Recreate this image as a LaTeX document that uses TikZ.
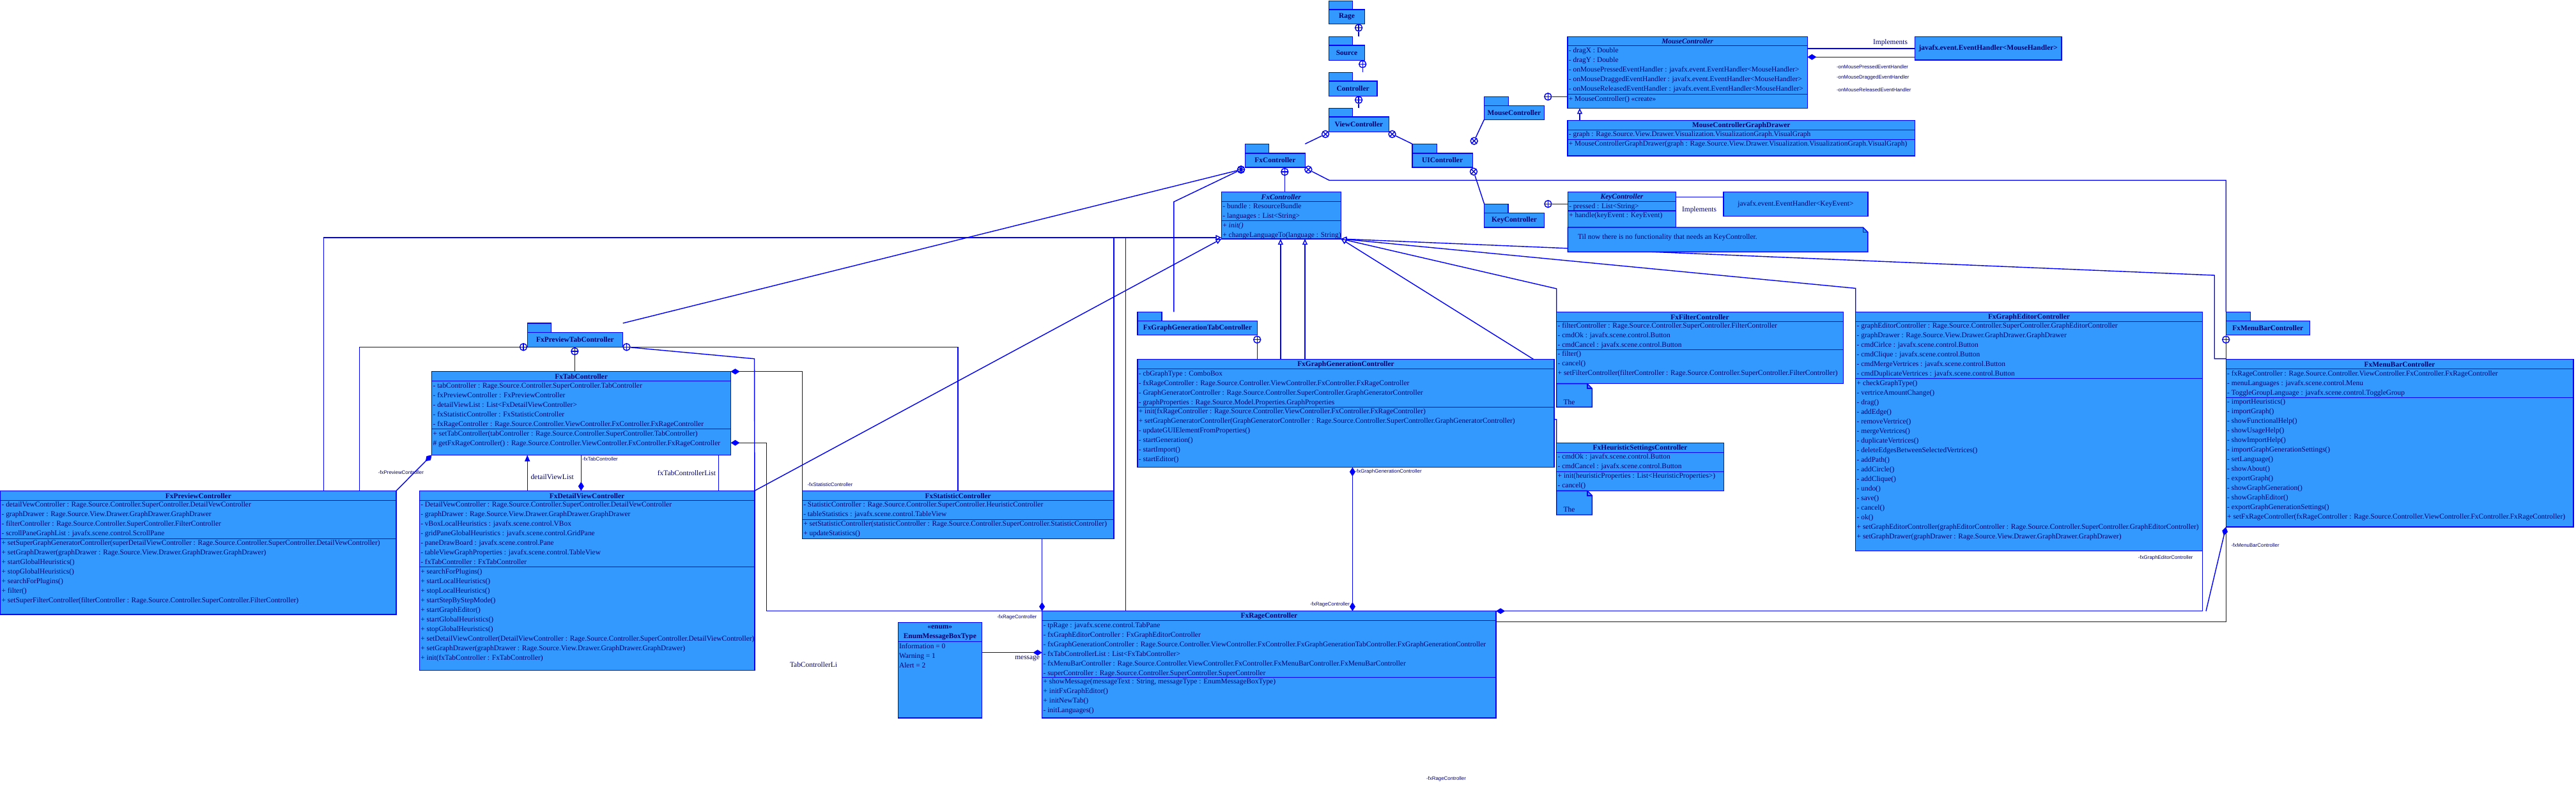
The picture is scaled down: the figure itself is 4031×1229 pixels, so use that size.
\documentclass[tikz,border=0pt]{standalone}
\usepackage{fontspec}
\setmainfont{Liberation Serif}
\setsansfont{Liberation Sans}
\usetikzlibrary{arrows.meta,fit}
\pgfdeclarelayer{bg}
\pgfsetlayers{bg,main}
\definecolor{boxblue}{RGB}{51,153,255}
\definecolor{lnblue}{RGB}{0,0,255}
\definecolor{txtblue}{RGB}{0,0,110}
\newcommand\fsz{\fontsize{3.25pt}{4.268pt}\selectfont}
\newcommand\fsmall{\sffamily\fontsize{2.25pt}{2.7pt}\selectfont}
\tikzset{
  ln/.style={draw=lnblue, line width=0.4pt},
  cbox/.style={draw=lnblue, fill=boxblue, line width=0.4pt, inner sep=0pt, outer sep=0pt},
  txt/.style={inner sep=0pt, outer sep=0pt, text=txtblue, font=\fsz, align=left},
  ttl/.style={inner sep=0pt, outer sep=0pt, text=txtblue, font=\fsz\bfseries},
  lbl/.style={inner sep=0pt, outer sep=0pt, text=txtblue, font=\fsz},
  slbl/.style={inner sep=0pt, outer sep=0pt, text=txtblue, font=\fsmall},
  cplus/.style={circle, draw=lnblue, line width=0.4pt, minimum size=1.1mm, inner sep=0pt,
    path picture={\draw[lnblue, line width=0.4pt] (path picture bounding box.north)--(path picture bounding box.south) (path picture bounding box.east)--(path picture bounding box.west);}},
  cross/.style={circle, draw=lnblue, line width=0.4pt, minimum size=1.1mm, inner sep=0pt,
    path picture={\draw[lnblue, line width=0.4pt] (path picture bounding box.north east)--(path picture bounding box.south west) (path picture bounding box.north west)--(path picture bounding box.south east);}},
  gen/.style={ln, -{Triangle[open, fill=white, length=0.9mm, width=0.8mm]}},
  comp/.style={ln, -{Diamond[fill=lnblue, length=1.4mm, width=0.9mm]}},
  compa/.style={ln, {Diamond[fill=lnblue, length=1.4mm, width=0.9mm]}-},
  compb/.style={ln, {Diamond[fill=lnblue, length=1.4mm, width=0.9mm]}-{Diamond[fill=lnblue, length=1.4mm, width=0.9mm]}},
  nav/.style={ln, -{Triangle[fill=lnblue, length=1mm, width=0.8mm]}},
}
\newcommand\klass[8]{%
  \node[cbox, fit={(#2,#3)(#4,#5)}] (#1) {};
  \draw[ln] (#2,#6) -- (#4,#6);
  \draw[ln] (#2,#7) -- (#4,#7);
  \node[ttl] (#1-t) at ({(#2+#4)/2},{(#3+#6)/2+0.6}) {#8};}
\newcommand\rowsat[4]{\node[txt, anchor=north west] (#1) at ({#2+2},{#3+2.6}) {#4};}
\newcommand\umlpkg[8]{%
  \node[cbox, fit={(#2,#3)(#4,#5)}] (#1-tab) {};
  \node[cbox, fit={(#2,#5)(#6,#7)}] (#1) {};
  \node[ttl] (#1-l) at (#1.center) {#8};}
\newcommand\umlnote[5]{%
  \node[inner sep=0pt, outer sep=0pt, fit={(#2,#3)(#4,#5)}] (#1) {};
  \draw[cbox] (#1.north west) -- ([xshift=-0.75mm]#1.north east) -- ([yshift=-0.75mm]#1.north east) -- (#1.south east) -- (#1.south west) -- cycle;
  \draw[ln] ([xshift=-0.75mm]#1.north east) |- ([yshift=-0.75mm]#1.north east);}
\begin{document}
\begin{tikzpicture}[x=0.1mm, y=-0.1mm]
\begin{pgfonlayer}{bg}
\fill[white] (0,0) rectangle (4031,1229);
\end{pgfonlayer}
\useasboundingbox (0,0) rectangle (4031,1229);

% ---------- packages ----------
\umlpkg{pRage}{2079.4}{1.3}{2116.5}{15}{2135.6}{37.3}{Rage}
\umlpkg{pSource}{2079.4}{57.3}{2116.5}{71}{2135.6}{94.3}{Source}
\umlpkg{pCtl}{2079.4}{113.3}{2116.5}{127}{2154.8}{150.3}{Controller}
\umlpkg{pVC}{2079.4}{169.3}{2116.5}{183}{2173.5}{206.3}{ViewController}
\umlpkg{pFx}{1948.5}{225.3}{1985.6}{240}{2042.3}{262}{FxController}
\umlpkg{pUI}{2209.9}{225.3}{2248.2}{240}{2304.4}{262}{UIController}
\umlpkg{pMouse}{2322.4}{151.3}{2360.7}{165.3}{2416.5}{187.3}{MouseController}
\umlpkg{pKey}{2322.6}{319.3}{2360.1}{333.3}{2416.4}{356}{KeyController}
\umlpkg{pPT}{825.2}{506}{862.7}{520.3}{974.7}{543.3}{FxPreviewTabController}
\umlpkg{pGT}{1779.9}{488.3}{1818}{502.3}{1967.7}{524.3}{FxGraphGenerationTabController}
\umlpkg{pMB}{3483.2}{488.3}{3521.5}{502.3}{3614.2}{524.3}{FxMenuBarController}

% ---------- classes ----------
\klass{mc}{2452.9}{57.3}{2828.4}{169.3}{71.7}{147.7}{\textit{MouseController}}
\rowsat{mc-a}{2452.9}{71.7}{- dragX : Double\\- dragY : Double\\- onMousePressedEventHandler : javafx.event.EventHandler<MouseHandler>\\- onMouseDraggedEventHandler : javafx.event.EventHandler<MouseHandler>\\- onMouseReleasedEventHandler : javafx.event.EventHandler<MouseHandler>}
\rowsat{mc-m}{2452.9}{147.7}{+ MouseController() «create»}

\klass{mcg}{2452.9}{188.3}{2996.5}{244}{203.3}{218.3}{MouseControllerGraphDrawer}
\rowsat{mcg-a}{2452.9}{203.3}{- graph : Rage.Source.View.Drawer.Visualization.VisualizationGraph.VisualGraph}
\rowsat{mcg-m}{2452.9}{218.3}{+ MouseControllerGraphDrawer(graph : Rage.Source.View.Drawer.Visualization.VisualizationGraph.VisualGraph)}

\node[cbox, fit={(2996.5,57.3)(3226,94)}] (mh) {};
\node[ttl] (mh-t) at (mh.center) {javafx.event.EventHandler<MouseHandler>};

\klass{fxc}{1911.4}{300.3}{2098.3}{374}{315.7}{345.7}{\textit{FxController}}
\rowsat{fxc-a}{1911.4}{315.7}{- bundle : ResourceBundle\\- languages : List<String>}
\rowsat{fxc-m}{1911.4}{345.7}{+ \textit{init()}\\+ changeLanguageTo(language : String)}

\klass{kc}{2453.3}{300.3}{2622.7}{356}{315.7}{330}{\textit{KeyController}}
\rowsat{kc-a}{2453.3}{315.7}{- pressed : List<String>}
\rowsat{kc-m}{2453.3}{330}{+ handle(keyEvent : KeyEvent)}

\node[cbox, fit={(2697,300.3)(2922.8,338.3)}] (ke) {};
\node[lbl] (ke-t) at (ke.center) {javafx.event.EventHandler<KeyEvent>};

\umlnote{kn}{2453.3}{356}{2922.8}{394.3}
\node[lbl, anchor=west] (kn-t) at (2469,372) {Til now there is no functionality that needs an KeyController.};

\klass{ftc}{675.6}{581.7}{1143.5}{712.3}{596.7}{671.7}{FxTabController}
\rowsat{ftc-a}{675.6}{596.7}{- tabController : Rage.Source.Controller.SuperController.TabController\\- fxPreviewController : FxPreviewController\\- detailViewList : List<FxDetailViewController>\\- fxStatisticController : FxStatisticController\\- fxRageController : Rage.Source.Controller.ViewController.FxController.FxRageController}
\rowsat{ftc-m}{675.6}{671.7}{+ setTabController(tabController : Rage.Source.Controller.SuperController.TabController)\\\# getFxRageController() : Rage.Source.Controller.ViewController.FxController.FxRageController}

\klass{fpc}{0.6}{768.3}{620.1}{962}{783.3}{843.3}{FxPreviewController}
\rowsat{fpc-a}{0.6}{783.3}{- detailVewController : Rage.Source.Controller.SuperController.DetailVewController\\- graphDrawer : Rage.Source.View.Drawer.GraphDrawer.GraphDrawer\\- filterController : Rage.Source.Controller.SuperController.FilterController\\- scrollPaneGraphList : javafx.scene.control.ScrollPane}
\rowsat{fpc-m}{0.6}{843.3}{+ setSuperGraphGeneratorController(superDetailViewController : Rage.Source.Controller.SuperController.DetailVewController)\\+ setGraphDrawer(graphDrawer : Rage.Source.View.Drawer.GraphDrawer.GraphDrawer)\\+ startGlobalHeuristics()\\+ stopGlobalHeuristics()\\+ searchForPlugins()\\+ filter()\\+ setSuperFilterController(filterController : Rage.Source.Controller.SuperController.FilterController)}

\klass{fdv}{656.3}{768.3}{1180.9}{1049.3}{783.3}{887.7}{FxDetailViewController}
\rowsat{fdv-a}{656.3}{783.3}{- DetailVewController : Rage.Source.Controller.SuperController.DetailVewController\\- graphDrawer : Rage.Source.View.Drawer.GraphDrawer.GraphDrawer\\- vBoxLocalHeuristics : javafx.scene.control.VBox\\- gridPaneGlobalHeuristics : javafx.scene.control.GridPane\\- paneDrawBoard : javafx.scene.control.Pane\\- tableViewGraphProperties : javafx.scene.control.TableView\\- fxTabController : FxTabController}
\rowsat{fdv-m}{656.3}{887.7}{+ searchForPlugins()\\+ startLocalHeuristics()\\+ stopLocalHeuristics()\\+ startStepByStepMode()\\+ startGraphEditor()\\+ startGlobalHeuristics()\\+ stopGlobalHeuristics()\\+ setDetailViewController(DetailViewController : Rage.Source.Controller.SuperController.DetailViewController)\\+ setGraphDrawer(graphDrawer : Rage.Source.View.Drawer.GraphDrawer.GraphDrawer)\\+ init(fxTabController : FxTabController)}

\klass{fsc}{1255.3}{768.3}{1743}{843.3}{783.3}{813.3}{FxStatisticController}
\rowsat{fsc-a}{1255.3}{783.3}{- StatisticController : Rage.Source.Controller.SuperController.HeuristicController\\- tableStatistics : javafx.scene.control.TableView}
\rowsat{fsc-m}{1255.3}{813.3}{+ setStatisticController(statisticController : Rage.Source.Controller.SuperController.StatisticController)\\+ updateStatistics()}

\klass{fgg}{1779.9}{562.7}{2432}{731.7}{577.7}{637.3}{FxGraphGenerationController}
\rowsat{fgg-a}{1779.9}{577.7}{- cbGraphType : ComboBox\\- fxRageController : Rage.Source.Controller.ViewController.FxController.FxRageController\\- GraphGeneratorController : Rage.Source.Controller.SuperController.GraphGeneratorController\\- graphProperties : Rage.Source.Model.Properties.GraphProperties}
\rowsat{fgg-m}{1779.9}{637.3}{+ init(fxRageController : Rage.Source.Controller.ViewController.FxController.FxRageController)\\+ setGraphGeneratorController(GraphGeneratorController : Rage.Source.Controller.SuperController.GraphGeneratorController)\\- updateGUIElementFromProperties()\\- startGeneration()\\- startImport()\\- startEditor()}

\klass{ffc}{2435.7}{488.3}{2884.3}{600.7}{503.3}{547.3}{FxFilterController}
\rowsat{ffc-a}{2435.7}{503.3}{- filterController : Rage.Source.Controller.SuperController.FilterController\\- cmdOk : javafx.scene.control.Button\\- cmdCancel : javafx.scene.control.Button}
\rowsat{ffc-m}{2435.7}{547.3}{- filter()\\- cancel()\\+ setFilterController(filterController : Rage.Source.Controller.SuperController.FilterController)}
\umlnote{ffn}{2435.7}{600.7}{2491.3}{637.3}
\node[lbl, anchor=west] (ffn-t) at (2446.7,630) {The};

\klass{fhs}{2435.7}{693.3}{2697.3}{768.3}{708.3}{738.3}{FxHeuristicSettingsController}
\rowsat{fhs-a}{2435.7}{708.3}{- cmdOk : javafx.scene.control.Button\\- cmdCancel : javafx.scene.control.Button}
\rowsat{fhs-m}{2435.7}{738.3}{+ init(heuristicProperties : List<HeuristicProperties>)\\- cancel()}
\umlnote{fhn}{2435.7}{768.3}{2491.3}{806}
\node[lbl, anchor=west] (fhn-t) at (2446.7,797.7) {The};

\klass{fge}{2903.7}{488.3}{3446.2}{862.3}{503.3}{592.7}{FxGraphEditorController}
\rowsat{fge-a}{2903.7}{503.3}{- graphEditorController : Rage.Source.Controller.SuperController.GraphEditorController\\- graphDrawer : Rage.Source.View.Drawer.GraphDrawer.GraphDrawer\\- cmdCirlce : javafx.scene.control.Button\\- cmdClique : javafx.scene.control.Button\\- cmdMergeVertrices : javafx.scene.control.Button\\- cmdDuplicateVertrices : javafx.scene.control.Button}
\rowsat{fge-m}{2903.7}{592.7}{+ checkGraphType()\\- vertriceAmountChange()\\- drag()\\- addEdge()\\- removeVertrice()\\- mergeVertrices()\\- duplicateVertrices()\\- deleteEdgesBetweenSelectedVertrices()\\- addPath()\\- addCircle()\\- addClique()\\- undo()\\- save()\\- cancel()\\- ok()\\+ setGraphEditorController(graphEditorController : Rage.Source.Controller.SuperController.GraphEditorController)\\+ setGraphDrawer(graphDrawer : Rage.Source.View.Drawer.GraphDrawer.GraphDrawer)}

\klass{fmb}{3483.2}{562.7}{4027}{825}{577.7}{622.3}{FxMenuBarController}
\rowsat{fmb-a}{3483.2}{577.7}{- fxRageController : Rage.Source.Controller.ViewController.FxController.FxRageController\\- menuLanguages : javafx.scene.control.Menu\\- ToggleGroupLanguage : javafx.scene.control.ToggleGroup}
\rowsat{fmb-m}{3483.2}{622.3}{- importHeuristics()\\- importGraph()\\- showFunctionalHelp()\\- showUsageHelp()\\- showImportHelp()\\- importGraphGenerationSettings()\\- setLanguage()\\- showAbout()\\- exportGraph()\\- showGraphGeneration()\\- showGraphEditor()\\- exportGraphGenerationSettings()\\+ setFxRageController(fxRageController : Rage.Source.Controller.ViewController.FxController.FxRageController)}

\klass{frc}{1630.6}{956.7}{2341.1}{1124}{971.7}{1060.3}{FxRageController}
\rowsat{frc-a}{1630.6}{971.7}{- tpRage : javafx.scene.control.TabPane\\- fxGraphEditorController : FxGraphEditorController\\- fxGraphGenerationController : Rage.Source.Controller.ViewController.FxController.FxGraphGenerationTabController.FxGraphGenerationController\\- fxTabControllerList : List<FxTabController>\\- fxMenuBarController : Rage.Source.Controller.ViewController.FxController.FxMenuBarController.FxMenuBarController\\- superController : Rage.Source.Controller.SuperController.SuperController}
\rowsat{frc-m}{1630.6}{1060.3}{+ showMessage(messageText : String, messageType : EnumMessageBoxType)\\+ initFxGraphEditor()\\+ initNewTab()\\- initLanguages()}

\node[cbox, fit={(1405.5,974.3)(1536.2,1124)}] (emb) {};
\draw[ln] (1405.5,1004.7) -- (1536.2,1004.7);
\node[ttl] (emb-s) at (1470.8,982.3) {«enum»};
\node[ttl] (emb-t) at (1470.8,997.2) {EnumMessageBoxType};
\node[txt, anchor=north west] (emb-a) at (1407,1007.3) {Information = 0\\Warning = 1\\Alert = 2};

% ---------- containment circles ----------
\node[cplus] (cRage) at (2126.1,43.5) {};
\node[cplus] (cSrc) at (2132.2,100.5) {};
\node[cplus] (cCtl) at (2126.1,156.5) {};
\node[cross] (cVC1) at (2074,210) {};
\node[cross] (cVC2) at (2178.5,210) {};
\node[cross] (cUI1) at (2306.7,220.7) {};
\node[cross] (cUI2) at (2306,268.7) {};
\node[cplus] (cMC) at (2422.3,151.3) {};
\node[cplus] (cKC) at (2422.4,319.3) {};
\node[cplus] (cFXa) at (1942,265.5) {};
\node[cross] (cFXb) at (1942,265.5) {};
\node[cplus] (cFX2) at (2010.3,269) {};
\node[cross] (cFX3) at (2047.3,265.5) {};
\node[cplus] (cPT1) at (819,543.3) {};
\node[cplus] (cPT2) at (899.3,550) {};
\node[cplus] (cPT3) at (980.5,543.3) {};
\node[cplus] (cGT) at (1967.2,531.7) {};
\node[cplus] (cMB) at (3483.2,531.7) {};

% ---------- labels ----------
\node[lbl, anchor=south] (impl1) at (2958,72) {Implements};
\node[lbl] (impl2) at (2659,328.3) {Implements};
\node[slbl, anchor=west] (l-mp) at (2874,104.3) {-onMousePressedEventHandler};
\node[slbl, anchor=west] (l-md) at (2874,121.7) {-onMouseDraggedEventHandler};
\node[slbl, anchor=west] (l-mr) at (2874,140.7) {-onMouseReleasedEventHandler};
\node[slbl, anchor=west] (l-fsc) at (1263.5,758.3) {-fxStatisticController};
\node[slbl, anchor=east] (l-fpc) at (663,739.3) {-fxPreviewController};
\node[lbl, anchor=west] (l-dvl) at (830.5,747) {detailViewList};
\node[slbl, anchor=west] (l-ftc) at (911,718.5) {-fxTabController};
\node[lbl, anchor=east] (l-tcl) at (1120,741) {fxTabControllerList};
\node[slbl, anchor=east] (l-frc1) at (1622.3,966) {-fxRageController};
\node[slbl, anchor=west] (l-fgg) at (2120.5,738.5) {-fxGraphGenerationController};
\node[slbl, anchor=east] (l-frc2) at (2112,946) {-fxRageController};
\node[lbl, anchor=east] (l-msg) at (1627,1031) {message};
\node[slbl, anchor=west] (l-fmb) at (3491.5,853.3) {-fxMenuBarController};
\node[slbl, anchor=east] (l-fge) at (3431.6,873.3) {-fxGraphEditorController};
\node[lbl, anchor=west] (l-tcl2) at (1236,1040.7) {TabControllerLi};
\node[slbl, anchor=west] (l-frc3) at (2232,1219) {-fxRageController};

% ---------- connectors ----------
\begin{pgfonlayer}{bg}
\draw[ln] (cRage) -- (cRage |- pSource-tab.north);
\draw[ln] (cSrc) -- (cSrc |- pCtl-tab.north);
\draw[ln] (cCtl) -- (cCtl |- pVC-tab.north);
\draw[ln] (cVC1) -- (pFx.east |- pFx-tab.north);
\draw[ln] (cVC2) -- (pUI-tab.north west);
\draw[ln] (cUI1) -- (pMouse.south west);
\draw[ln] (cUI2) -- (pKey-tab.north west);
\draw[ln] (cMC) -- (cMC -| mc.west);
\draw[ln] (cKC) -- (cKC -| kc.west);
\draw[ln] (cFXa) -- (pPT.east |- pPT-tab.north);
\draw[ln] (cFXa) -- (1836.8,316) -- (1836.8,488.3);
\draw[ln] (cFX2) -- (cFX2 |- fxc.north);
\draw[ln] (cFX3) -- (2080,282.3) -- (3483.2,282.3) -- (pMB-tab.north west);
\draw[ln] (cPT1) -- (562.3,543.3) -- (562.3,768.3);
\draw[ln] (cPT2) -- (cPT2 |- ftc.north);
\draw[ln] (cPT3) -- (1498.8,543.3) -- (1498.8,768.3);
\draw[ln] (cPT3) -- (1180.5,561.7) -- (fdv.north east);
\draw[ln] (cGT) -- (cGT |- fgg.north);
\draw[ln] (cMB) -- (cMB |- fmb.north);
% generalizations
\draw[gen] (506.5,768.3) -- (506.5,372) -- (1911.4,372);
\draw[ln] (1743,372) -- (1743,768.3);
\draw[ln] (1761.7,372) -- (1761.7,956.7);
\draw[gen] (fdv.north east) -- (fxc.south west);
\draw[gen] (2003.8,562.7) -- (2003.8,374);
\draw[gen] (2042,562.7) -- (2042,374);
\draw[gen] (ffc.north west) -- (2435.7,452) -- (fxc.south east);
\draw[gen] (fge.north west) -- (2903.7,451.4) -- (fxc.south east);
\draw[gen] (3483.2,561.7) -- (3465.2,561.7) -- (3465.2,431) -- (fxc.south east);
\draw[gen] (fhs.north west) -- (2435.7,656.7) -- (2400,656.7) -- (2400,562.7) -- (fxc.south east);
\draw[gen] (2472,188.3) -- (2472,169.3);
% implements
\draw[ln] (2828.4,76) -- (2996.5,76);
\draw[ln] (2622.7,308.3) -- (2697,308.3);
% compositions / associations
\draw[comp] (2996.5,89.3) -- (2828.4,89.3);
\draw[comp] (1255.5,768.3) -- (1255.5,581.7) -- (1143.5,581.7);
\draw[comp] (frc.north west) -- (1199.3,956.7) -- (1199.3,693.3) -- (1143.5,693.3);
\draw[comp] (fpc.north east) -- (ftc.south west);
\draw[nav] (825.2,768.3) -- (825.2,712.3);
\draw[comp] (909.3,712.3) -- (909.3,768.3);
\draw[ln] (1124.3,712.3) -- (1124.3,768.3);
\draw[comp] (1630.6,843.3) -- (1630.6,956.7);
\draw[compb] (2116.4,731.7) -- (2116.4,956.7);
\draw[comp] (1536.2,1021.7) -- (1630.6,1021.7);
\draw[compa] (frc.north east) -- (3446.2,956.7) -- (fge.south east);
\draw[ln] (2341.1,973.3) -- (3483.2,973.3) -- (fmb.south west);
\draw[comp] (3452,956.7) -- (fmb.south west);
\end{pgfonlayer}
\end{tikzpicture}
\end{document}
